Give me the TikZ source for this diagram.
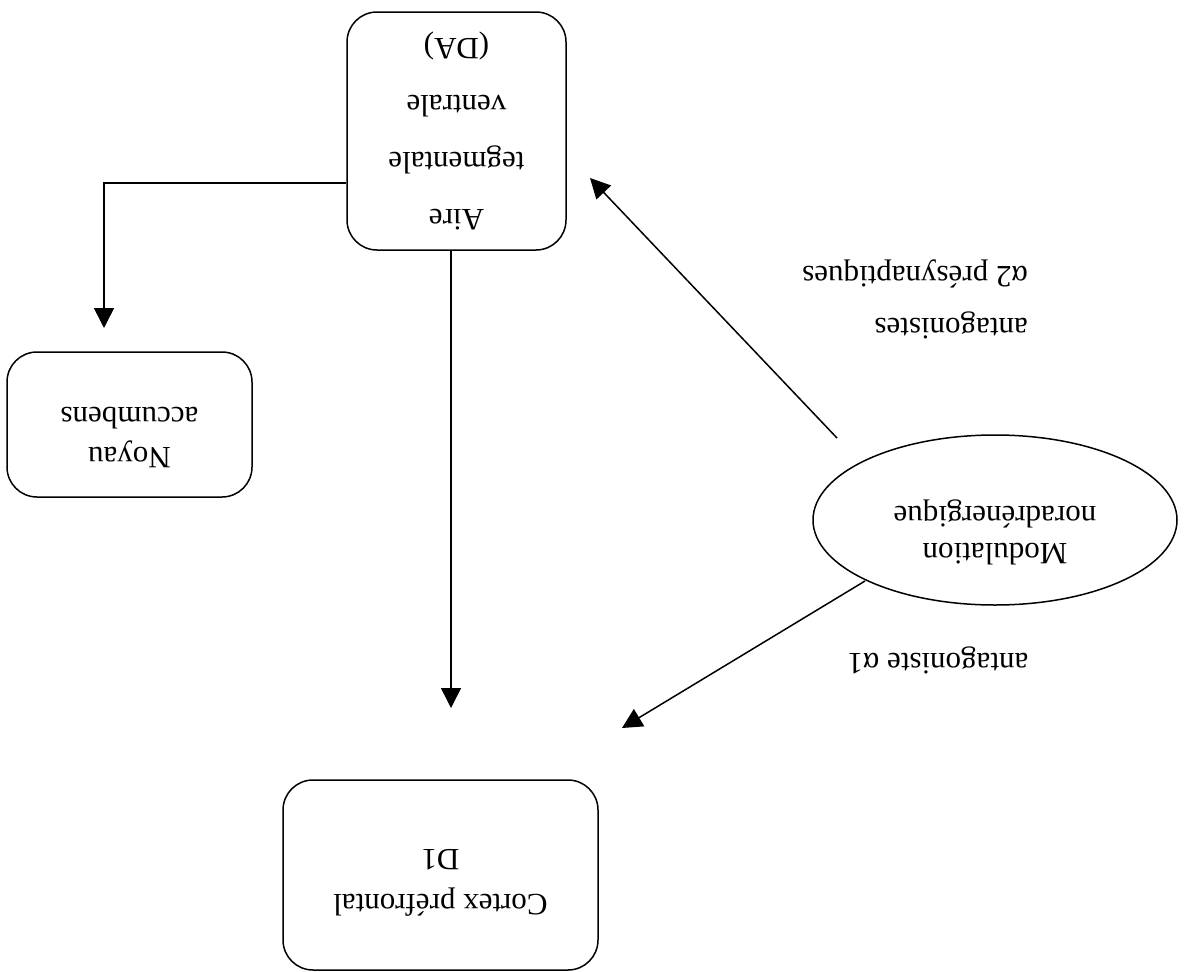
\documentclass[tikz,border=0pt]{standalone}
\usepackage{fontspec}
\setmainfont{Liberation Serif}
\usetikzlibrary{arrows.meta,shapes.geometric}
% text set upside down; the optional length deepens the last line
\newcommand{\flipped}[3][c]{\rotatebox{180}{\begin{tabular}{@{}#1@{}}#3\rule[-#2]{0pt}{1pt}\end{tabular}}}
\begin{document}
\begin{tikzpicture}[x=1pt,y=-1pt,
  font=\fontsize{31}{37}\selectfont,
  region/.style={draw, line width=1.5pt, rounded corners=30pt, inner sep=0pt},
  oval/.style={draw, line width=1.5pt, ellipse, inner sep=0pt},
  arr/.style={line width=1.5pt, -{Triangle[length=20pt,width=20pt]}},
  lbl/.style={inner sep=0pt}]
\useasboundingbox (0,0) rectangle (1189,972);

% boxes
\node[region, minimum width=219pt, minimum height=238pt] (vta) at (456.5,131)
  {\flipped{11pt}{Aire\\[20pt]tegmentale\\[20pt]ventrale\\[20pt](DA)}};
\node[region, minimum width=245pt, minimum height=145pt] (nac) at (129.5,424.5)
  {\flipped{31pt}{Noyau\\[3pt]accumbens}};
\node[region, minimum width=315pt, minimum height=190pt] (pfc) at (440.5,875)
  {\flipped{20pt}{Cortex préfrontal\\[8pt]D1}};
\node[oval, minimum width=364pt, minimum height=170pt] (ne) at (995,520)
  {\flipped{35pt}{Modulation\\noradrénergique}};

% connector ends
\coordinate (nacIn) at (104,328);
\coordinate (pfcIn) at (451,708);
\coordinate (neOutA) at (837,438);
\coordinate (vtaIn) at (590,178);
\coordinate (neOutB) at (865,581);
\coordinate (pfcInB) at (622,728);

% connectors
\draw[arr] (vta.west |- 0,183) -| (nacIn);
\draw[arr] (vta.south -| pfcIn) -- (pfcIn);
\draw[arr] (neOutA) -- (vtaIn);
\draw[arr] (neOutB) -- (pfcInB);

% labels
\node[lbl, anchor=east] (a2) at (1028,300)
  {\flipped[l]{0pt}{antagonistes\\[15pt]α2 présynaptiques}};
\node[lbl] (a1) at (938,660) {\rotatebox{180}{antagoniste α1}};
\end{tikzpicture}
\end{document}
